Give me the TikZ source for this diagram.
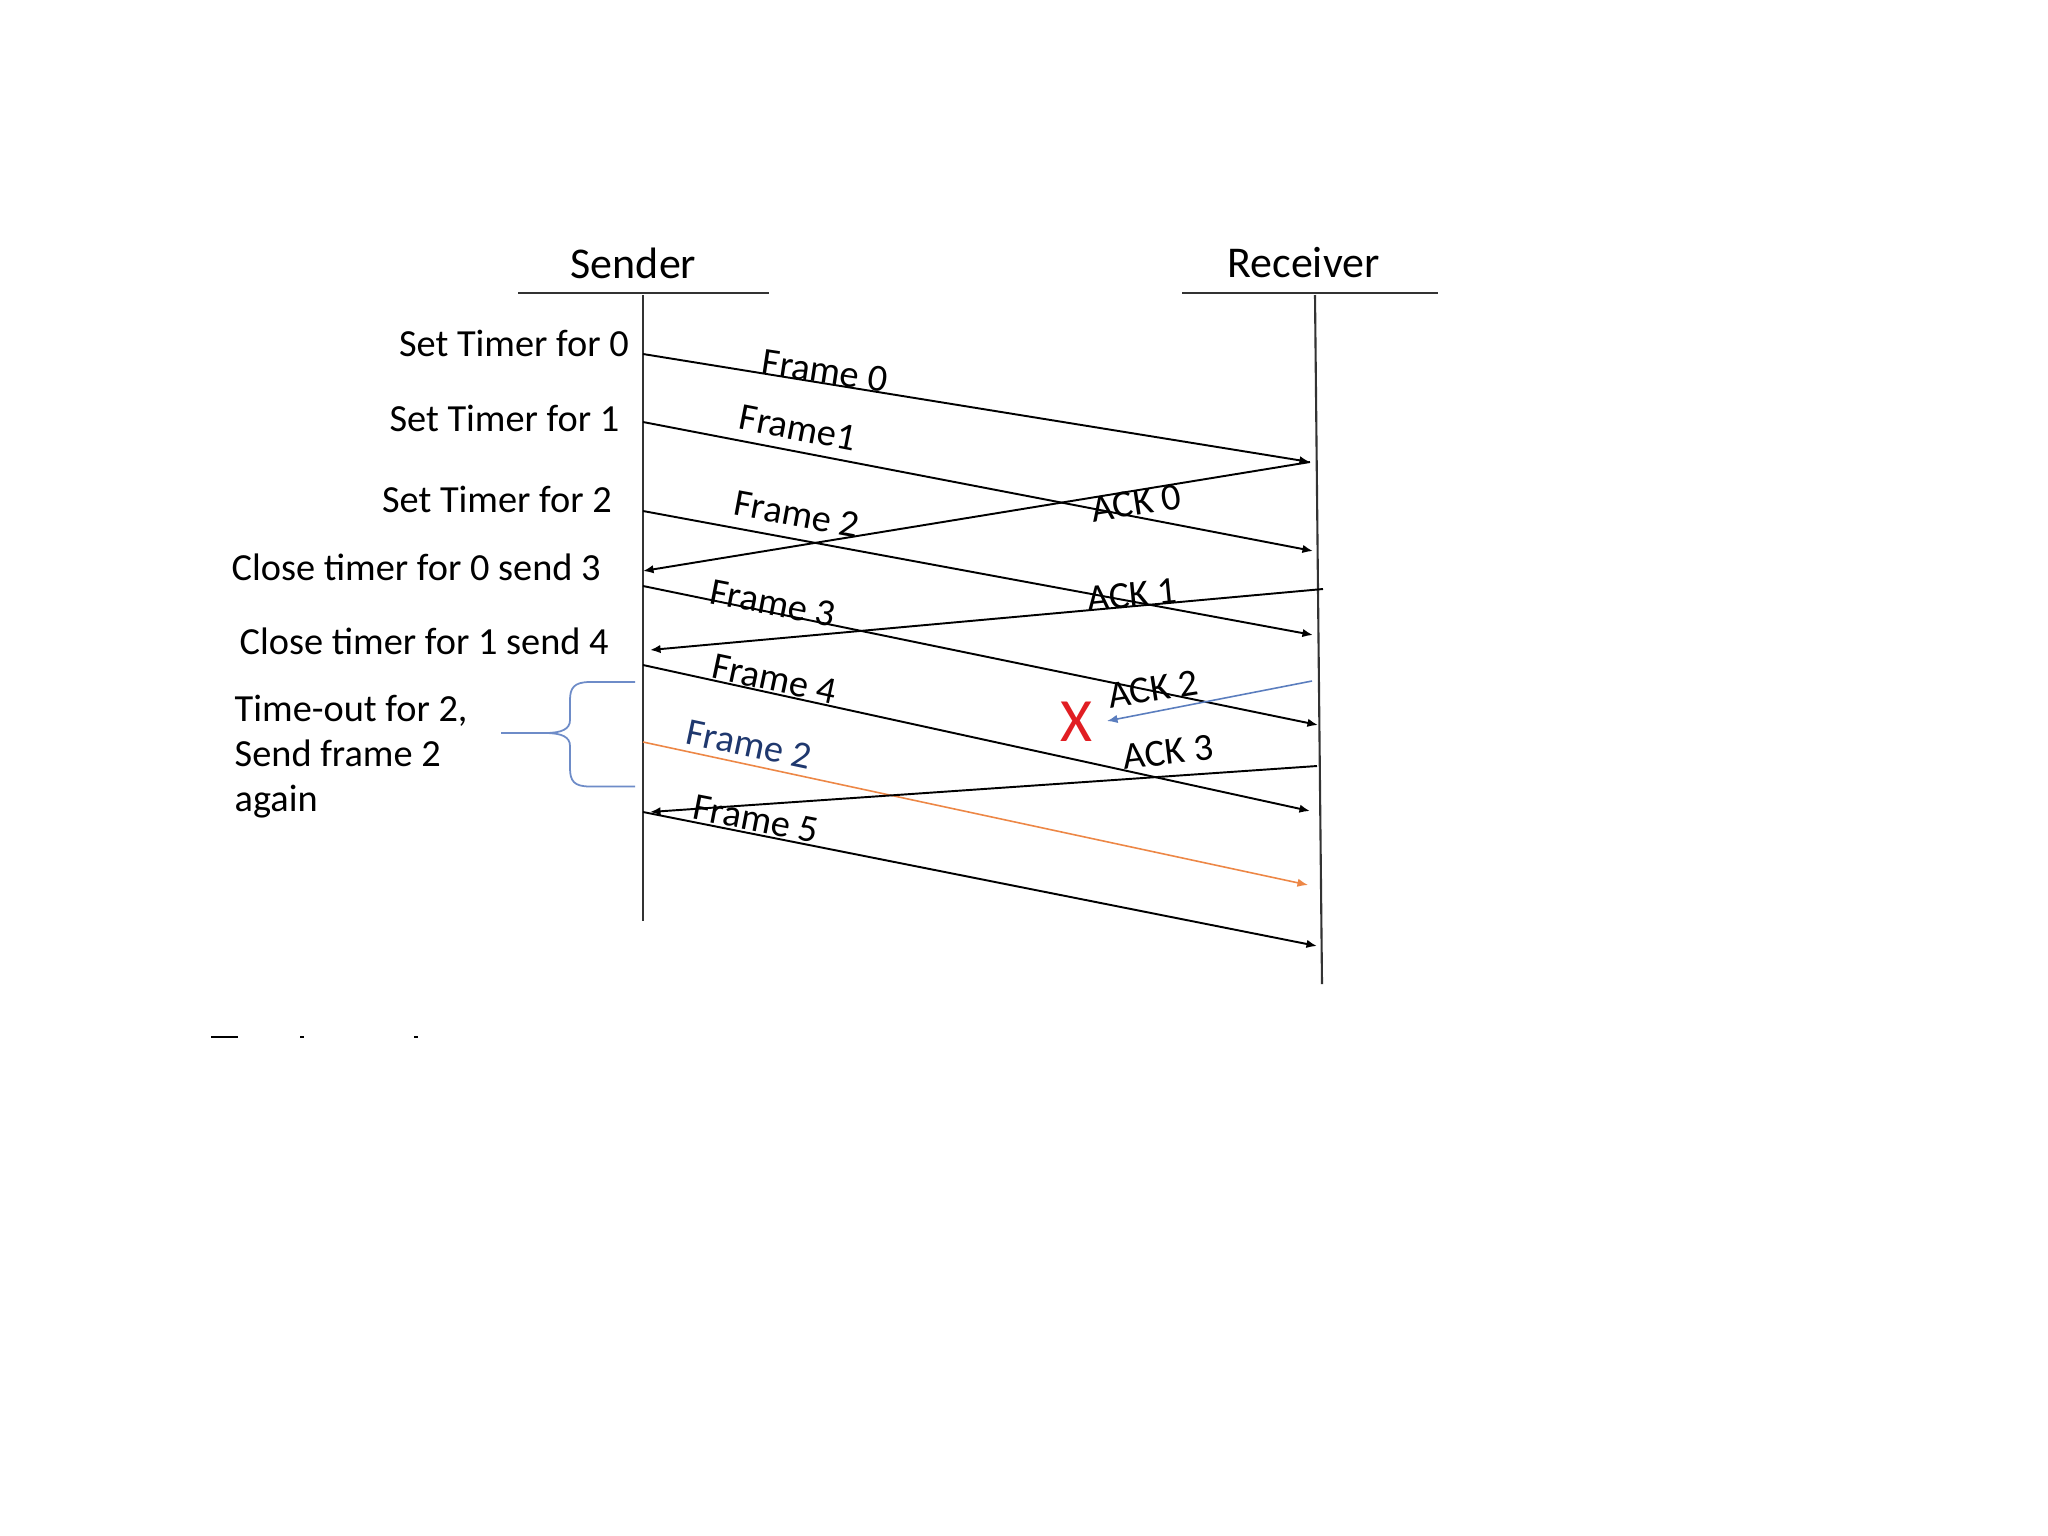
\documentclass[tikz,border=0pt]{standalone}
\usepackage{fontspec}
\setmainfont{Carlito}
\usetikzlibrary{arrows.meta}
\definecolor{orangeline}{RGB}{237,135,70}
\definecolor{ackblue}{RGB}{90,125,190}
\definecolor{navytext}{RGB}{31,56,110}
\definecolor{bracecol}{RGB}{110,140,200}
\definecolor{xred}{RGB}{225,30,35}
\begin{document}
\begin{tikzpicture}[x=0.01cm,y=-0.01cm,
  life/.style={line width=0.6pt, draw=black!80},
  msg/.style={line width=0.55pt, -{Latex[length=3pt,width=2.4pt]}},
  lbl/.style={font=\fontsize{10.9}{12.9}\selectfont, inner sep=0pt},
  hdr/.style={font=\fontsize{12.5}{15}\selectfont, inner sep=0pt}]
\useasboundingbox (0,0) rectangle (2048,1536);
\fill[white] (0,0) rectangle (2048,1536);

% headers
\node[hdr] (sender) at (633.5,263) {Sender};
\node[hdr] (receiver) at (1303.5,263) {Receiver};
\coordinate (sh1) at (518,293); \coordinate (sh2) at (769,293);
\coordinate (rh1) at (1182,293); \coordinate (rh2) at (1438,293);
\draw[life] (sh1) -- (sh2);
\draw[life] (rh1) -- (rh2);

% lifelines
\coordinate (s0) at (643,295); \coordinate (s1) at (643,921);
\coordinate (r0) at (1315,295); \coordinate (r1) at (1322,984);
\draw[life] (s0) -- (s1);
\draw[life] (r0) -- (r1);

% message end points
\coordinate (f0s) at (643,354); \coordinate (f0e) at (1310,462);
\coordinate (f1s) at (643,422); \coordinate (f1e) at (1313,551);
\coordinate (f2s) at (643,511); \coordinate (f2e) at (1313,635);
\coordinate (f3s) at (643,586); \coordinate (f3e) at (1318,725);
\coordinate (f4s) at (643,665); \coordinate (f4e) at (1310,811);
\coordinate (frs) at (643,742); \coordinate (fre) at (1308,885);
\coordinate (f5s) at (643,812); \coordinate (f5e) at (1317,946);

\coordinate (a0e) at (643,571);
\coordinate (a1s) at (1323,589); \coordinate (a1e) at (650,650);
\coordinate (a2s) at (1312,681); \coordinate (a2e) at (1107,721);
\coordinate (a3s) at (1317,766); \coordinate (a3e) at (650,812);

% frames
\draw[msg] (f0s) -- (f0e);
\draw[msg] (f1s) -- (f1e);
\draw[msg] (f2s) -- (f2e);
\draw[msg] (f3s) -- (f3e);
\draw[msg] (f4s) -- (f4e);
\draw[msg, draw=orangeline, line width=0.45pt] (frs) -- (fre);
\draw[msg] (f5s) -- (f5e);

% acks
\draw[msg] (f0e) -- (a0e);
\draw[msg] (a1s) -- (a1e);
\draw[msg, draw=ackblue, line width=0.45pt] (a2s) -- (a2e);
\draw[msg] (a3s) -- (a3e);

% labels
\node[lbl, rotate=-8.7] (lf0) at (825,371) {Frame 0};
\node[lbl, rotate=-11] (lf1) at (798,428) {Frame1};
\node[lbl, rotate=-10.5] (lf2) at (797,514) {Frame 2};
\node[lbl, rotate=-11] (lf3) at (773,603) {Frame 3};
\node[lbl, rotate=-12] (lf4) at (774.5,679) {Frame 4};
\node[lbl, rotate=-12, text=navytext] (lfr) at (749,744.5) {Frame 2};
\node[lbl, rotate=-11] (lf5) at (756,819) {Frame 5};
\node[lbl, rotate=9] (la0) at (1136,503) {ACK 0};
\node[lbl, rotate=5.5] (la1) at (1132,595) {ACK 1};
\node[lbl, rotate=9] (la2) at (1153,689) {ACK 2};
\node[lbl, rotate=7] (la3) at (1168,752) {ACK 3};
\node[text=xred, inner sep=0pt, font=\fontsize{17.5}{17.5}\selectfont] (lost) at (1076,722) {X};

% left annotations
\node[lbl, anchor=east] (t0) at (629.5,343) {Set Timer for 0};
\node[lbl, anchor=east] (t1) at (620,418) {Set Timer for 1};
\node[lbl, anchor=east] (t2) at (612.5,499) {Set Timer for 2};
\node[lbl, anchor=west] (c0) at (231,567) {Close timer for 0 send 3};
\node[lbl, anchor=west] (c1) at (239,641) {Close timer for 1 send 4};
\node[lbl, anchor=north west, align=left] (tout) at (234,694) {Time-out for 2,\\Send frame 2\\again};

% brace
\draw[bracecol, line width=0.5pt]
  (635,682) -- (590,682) .. controls (574,682) and (570,688) .. (570,700)
  -- (570,720) .. controls (570,729) and (562,733) .. (545,733) -- (501,733);
\draw[bracecol, line width=0.5pt]
  (545,733) .. controls (562,733) and (570,737) .. (570,746)
  -- (570,768) .. controls (570,781) and (574,786.5) .. (590,786.5) -- (635,786.5);

% clipped text remnants at bottom
\draw[line width=0.6pt] (211,1037) -- (238,1037);
\draw[line width=0.6pt] (300,1037) -- (304,1037);
\draw[line width=0.6pt] (414,1037) -- (418,1037);
\end{tikzpicture}
\end{document}
